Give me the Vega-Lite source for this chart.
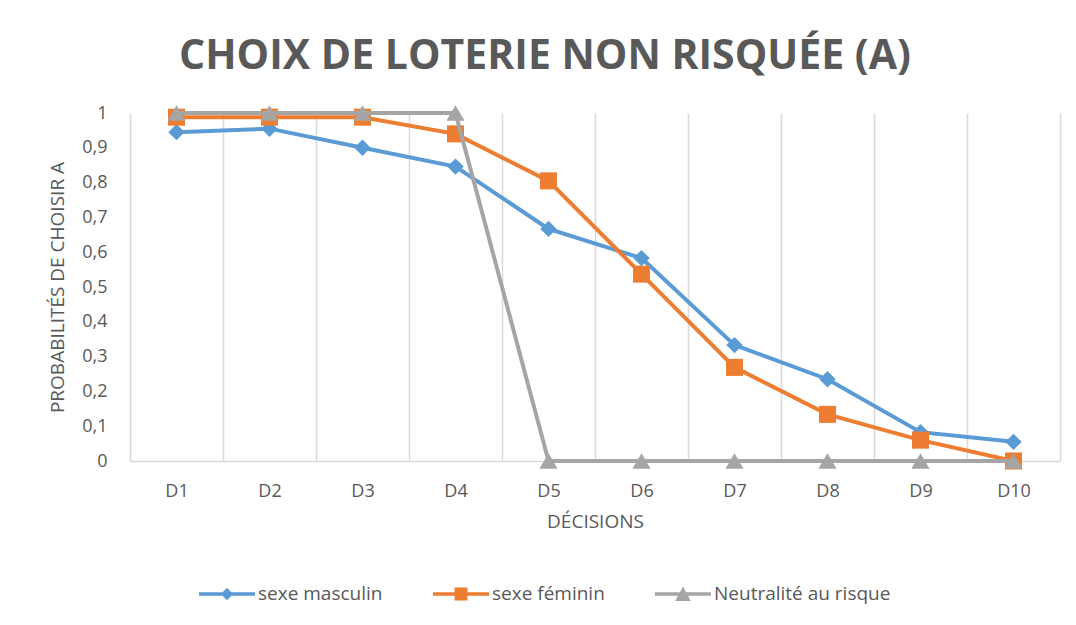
{
  "$schema": "https://vega.github.io/schema/vega-lite/v6.json",
  "width": 930,
  "height": 348,
  "autosize": {"type": "none"},
  "padding": {"left": 130, "top": 113, "right": 16, "bottom": 164},
  "background": "white",
  "title": {
    "text": "CHOIX DE LOTERIE NON RISQUÉE (A)",
    "font": "Open Sans",
    "fontSize": 41,
    "fontWeight": "bold",
    "color": "#595959",
    "anchor": "middle",
    "dx": -50,
    "offset": -15,
    "baseline": "bottom"
  },
  "data": {
    "values": [
      {"d": "D1", "serie": "sexe masculin", "p": 0.945},
      {"d": "D2", "serie": "sexe masculin", "p": 0.955},
      {"d": "D3", "serie": "sexe masculin", "p": 0.9},
      {"d": "D4", "serie": "sexe masculin", "p": 0.846},
      {"d": "D5", "serie": "sexe masculin", "p": 0.667},
      {"d": "D6", "serie": "sexe masculin", "p": 0.583},
      {"d": "D7", "serie": "sexe masculin", "p": 0.333},
      {"d": "D8", "serie": "sexe masculin", "p": 0.235},
      {"d": "D9", "serie": "sexe masculin", "p": 0.083},
      {"d": "D10", "serie": "sexe masculin", "p": 0.055},
      {"d": "D1", "serie": "sexe féminin", "p": 0.988},
      {"d": "D2", "serie": "sexe féminin", "p": 0.988},
      {"d": "D3", "serie": "sexe féminin", "p": 0.988},
      {"d": "D4", "serie": "sexe féminin", "p": 0.94},
      {"d": "D5", "serie": "sexe féminin", "p": 0.805},
      {"d": "D6", "serie": "sexe féminin", "p": 0.537},
      {"d": "D7", "serie": "sexe féminin", "p": 0.269},
      {"d": "D8", "serie": "sexe féminin", "p": 0.134},
      {"d": "D9", "serie": "sexe féminin", "p": 0.06},
      {"d": "D10", "serie": "sexe féminin", "p": 0.0},
      {"d": "D1", "serie": "Neutralité au risque", "p": 1},
      {"d": "D2", "serie": "Neutralité au risque", "p": 1},
      {"d": "D3", "serie": "Neutralité au risque", "p": 1},
      {"d": "D4", "serie": "Neutralité au risque", "p": 1},
      {"d": "D5", "serie": "Neutralité au risque", "p": 0},
      {"d": "D6", "serie": "Neutralité au risque", "p": 0},
      {"d": "D7", "serie": "Neutralité au risque", "p": 0},
      {"d": "D8", "serie": "Neutralité au risque", "p": 0},
      {"d": "D9", "serie": "Neutralité au risque", "p": 0},
      {"d": "D10", "serie": "Neutralité au risque", "p": 0}
    ]
  },
  "encoding": {
    "x": {
      "field": "d",
      "type": "ordinal",
      "sort": ["D1", "D2", "D3", "D4", "D5", "D6", "D7", "D8", "D9", "D10"],
      "scale": {"type": "band", "paddingInner": 0, "paddingOuter": 0},
      "axis": {
        "title": "DÉCISIONS",
        "labelAngle": 0,
        "tickBand": "extent",
        "grid": true,
        "gridColor": "#d9d9d9",
        "gridWidth": 1.5,
        "ticks": false,
        "domainColor": "#d9d9d9",
        "domainWidth": 1.5,
        "labelPadding": 21,
        "labelFont": "Open Sans",
        "labelFontSize": 18,
        "labelColor": "#595959",
        "titleFont": "Open Sans",
        "titleFontSize": 19,
        "titleFontWeight": "normal",
        "titleColor": "#595959",
        "titlePadding": 12
      }
    },
    "y": {
      "field": "p",
      "type": "quantitative",
      "scale": {"domain": [0, 1], "nice": false, "zero": true},
      "axis": {
        "title": "PROBABILITÉS DE CHOISIR A",
        "values": [0, 0.1, 0.2, 0.3, 0.4, 0.5, 0.6, 0.7, 0.8, 0.9, 1],
        "labelExpr": "replace(format(datum.value, '~g'), '.', ',')",
        "grid": false,
        "domain": false,
        "ticks": false,
        "labelPadding": 23,
        "labelFont": "Open Sans",
        "labelFontSize": 18,
        "labelColor": "#595959",
        "titleFont": "Open Sans",
        "titleFontSize": 19,
        "titleFontWeight": "normal",
        "titleColor": "#595959",
        "titlePadding": 14
      }
    },
    "color": {
      "field": "serie",
      "type": "nominal",
      "scale": {
        "domain": ["sexe masculin", "sexe féminin", "Neutralité au risque"],
        "range": ["#5B9BD5", "#ED7D31", "#A5A5A5"]
      },
      "legend": {
        "title": null,
        "orient": "none",
        "legendX": 69,
        "legendY": 453,
        "direction": "horizontal",
        "symbolSize": 3136,
        "symbolStrokeWidth": 0,
        "labelFont": "Open Sans",
        "labelFontSize": 19,
        "labelColor": "#595959",
        "labelOffset": 3,
        "labelLimit": 400,
        "columnPadding": 50,
        "symbolOpacity": 1,
        "encode": {
          "symbols": {
            "update": {
              "shape": {"signal": "datum.value === 'sexe masculin' ? 'M-1,-0.06H1V0.06H-1Z M0,-0.22L0.22,0L0,0.22L-0.22,0Z' : datum.value === 'sexe féminin' ? 'M-1,-0.06H1V0.06H-1Z M-0.23,-0.23H0.23V0.23H-0.23Z' : 'M-1,-0.06H1V0.06H-1Z M0,-0.27L0.28,0.25H-0.28Z'"},
              "strokeWidth": {"value": 0},
              "opacity": {"value": 1}
            }
          }
        }
      }
    }
  },
  "layer": [
    {
      "transform": [{"filter": "datum.serie === 'sexe masculin'"}],
      "mark": {"type": "line", "strokeWidth": 4}
    },
    {
      "transform": [{"filter": "datum.serie === 'sexe masculin'"}],
      "mark": {"type": "point", "filled": true, "opacity": 1, "size": 270, "shape": "diamond"}
    },
    {
      "transform": [{"filter": "datum.serie === 'sexe féminin'"}],
      "mark": {"type": "line", "strokeWidth": 4}
    },
    {
      "transform": [{"filter": "datum.serie === 'sexe féminin'"}],
      "mark": {"type": "point", "filled": true, "opacity": 1, "size": 290, "shape": "square"}
    },
    {
      "transform": [{"filter": "datum.serie === 'Neutralité au risque'"}],
      "mark": {"type": "line", "strokeWidth": 4}
    },
    {
      "transform": [{"filter": "datum.serie === 'Neutralité au risque'"}],
      "mark": {"type": "point", "filled": true, "opacity": 1, "size": 330, "shape": "triangle-up"}
    }
  ],
  "config": {
    "view": {"stroke": null}
  }
}
